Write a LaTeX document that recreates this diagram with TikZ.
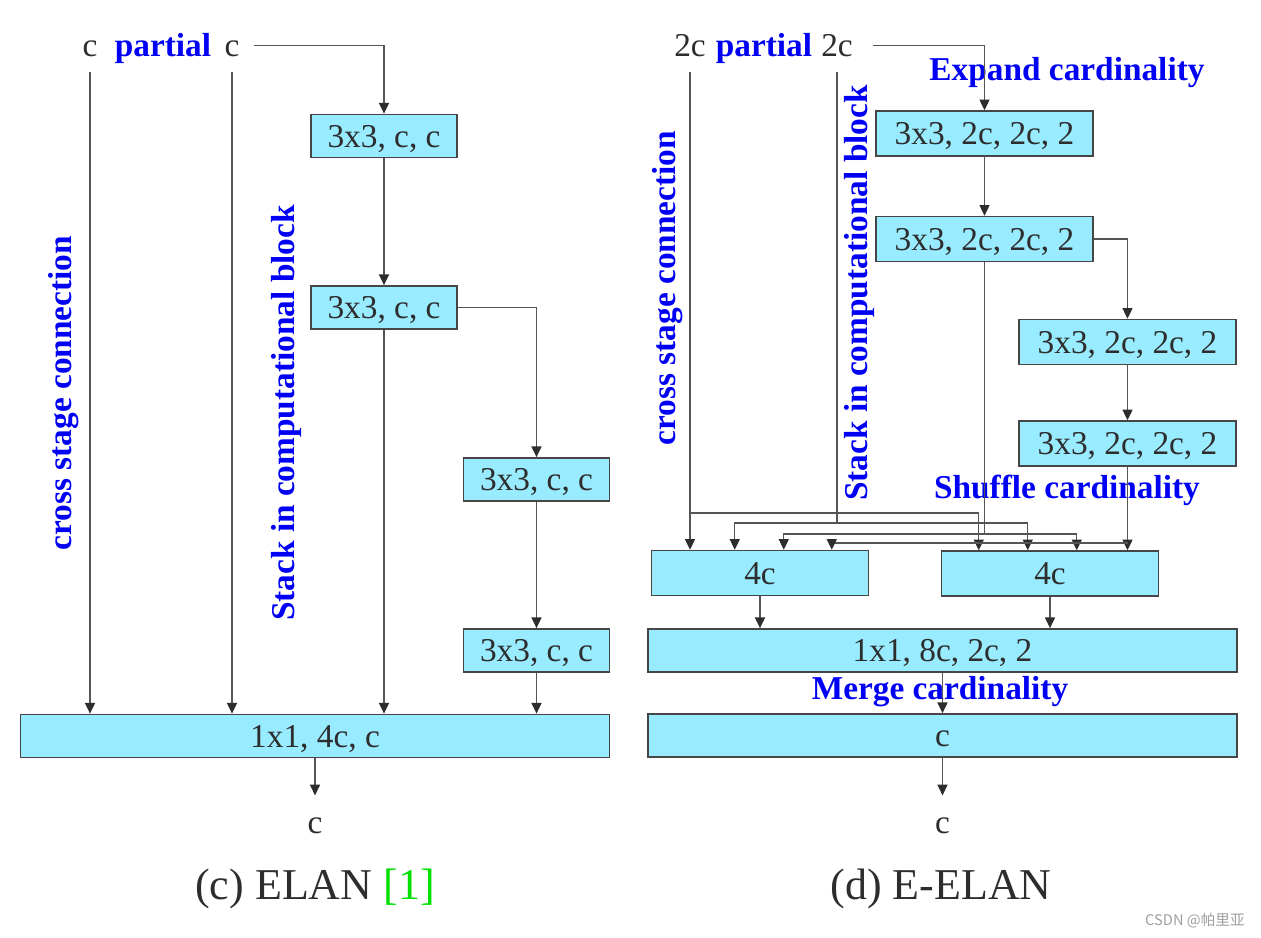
\documentclass[tikz,border=0pt]{standalone}
\usepackage{fontspec}
\setmainfont{Liberation Serif}
\newfontfamily\cjkfont{Noto Sans CJK SC}
\usepackage{xcolor}
\usetikzlibrary{arrows.meta,positioning,calc}
\definecolor{boxcyan}{RGB}{153,235,255}
\definecolor{edgegray}{RGB}{70,70,70}
\definecolor{wiregray}{RGB}{85,85,85}
\definecolor{inkgray}{RGB}{45,45,45}
\definecolor{cardblue}{RGB}{0,0,245}
\definecolor{refgreen}{RGB}{0,225,0}

\begin{document}
\begin{tikzpicture}[
  x=0.75pt, y=-0.75pt,
  font=\fontsize{25}{30}\selectfont,
  conv/.style={draw=edgegray, line width=1.1pt, fill=boxcyan, text=inkgray,
              inner sep=0pt, text height=17pt, text depth=0pt, minimum height=32.5pt},
  narrow/.style={conv, minimum width=109.5pt},
  wide/.style={conv, minimum width=162.75pt, minimum height=33.75pt},
  full/.style={conv, minimum width=442pt},
  io/.style={text=inkgray, inner sep=0pt, text height=17pt, text depth=0pt, anchor=base},
  tag/.style={text=cardblue, font=\fontsize{25}{30}\selectfont\bfseries, inner sep=0pt},
  subcap/.style={text=inkgray, inner sep=0pt, font=\fontsize{33}{40}\selectfont},
  ln/.style={draw=wiregray, line width=0.9pt},
  ar/.style={ln, -{Triangle[length=8pt,width=7.5pt,color=inkgray]}},
  from/.style={shorten <=11pt}
]
\fill[white] (0,0) rectangle (1261,938);
\useasboundingbox (0,0) rectangle (1261,938);

% (c) ELAN
\node[io] (cl) at (90,57) {c};
\node[tag, anchor=base] (pl) at (163,57) {partial};
\node[io] (cr) at (232,57) {c};
\node[tag, rotate=90] (csl) at (64,393) {cross stage connection};
\node[tag, rotate=90] (stl) at (286,413) {Stack in computational block};

\node[narrow] (b1) at (384,136) {3x3, c, c};
\node[narrow] (b2) at (384,307.5) {3x3, c, c};
\node[narrow] (b3) at (536.5,479.5) {3x3, c, c};
\node[narrow] (b4) at (536.5,650.5) {3x3, c, c};
\node[full] (bs) at (315,736) {1x1, 4c, c};
\node[io] (yl) at (315,833) {c};
\node[subcap] (capl) at (315,889) {(c) ELAN \textcolor{refgreen}{[1]}};

\draw[ar, from] (cl.south) -- (cl.south |- bs.north);
\draw[ar, from] (cr.south) -- (cr.south |- bs.north);
\draw[ar, from] (cr.east) -| (b1.north);
\draw[ar] (b1) -- (b2);
\draw[ar] (b2.east) -| (b3.north);
\draw[ar] (b2.south) -- (b2.south |- bs.north);
\draw[ar] (b3) -- (b4);
\draw[ar] (b4.south) -- (b4.south |- bs.north);
\draw[ar, shorten >=11pt] (bs.south) -- (yl.north);

% (d) E-ELAN
\node[io] (cl2) at (690,57) {2c};
\node[tag, anchor=base] (pr) at (764,57) {partial};
\node[io] (cr2) at (837,57) {2c};
\node[tag] (exp) at (1067,73) {Expand cardinality};
\node[tag, rotate=90] (csr) at (668,288) {cross stage connection};
\node[tag, rotate=90] (str) at (859,293) {Stack in computational block};

\node[wide] (e1) at (984.5,133.5) {3x3, 2c, 2c, 2};
\node[wide] (e2) at (984.5,239) {3x3, 2c, 2c, 2};
\node[wide] (e3) at (1127.5,342) {3x3, 2c, 2c, 2};
\node[wide] (e4) at (1127.5,443.5) {3x3, 2c, 2c, 2};
\node[tag] (shf) at (1067,490) {Shuffle cardinality};
\node[wide] (g1) at (760,573) {4c};
\node[wide] (g2) at (1050,573.5) {4c};
\node[full] (mg) at (942.5,650.5) {1x1, 8c, 2c, 2};
\node[tag] (mrg) at (940,692) {Merge cardinality};
\node[full] (oc) at (942.5,735.5) {c};
\node[io] (yr) at (942.5,833) {c};
\node[subcap] (capr) at (941,889) {(d) E-ELAN};

\draw[ar, shorten <=15pt] (cr2.east) -| (e1.north);
\draw[ar] (e1) -- (e2);
\draw[ar] (e2.east) -| (e3.north);
\draw[ar] (e3) -- (e4);

% shuffle buses
\coordinate (busA) at (0,513);
\coordinate (busB) at (0,523);
\coordinate (busC) at (0,534);
\coordinate (busD) at (0,543);
\draw[ar, from] (cl2.south) -- (cl2.south |- g1.north);
\draw[ar] (cl2.south |- busA) -| ($(g2.north west)+(38,0)$);
\draw[ln, from] (cr2.south) -- (cr2.south |- busB);
\draw[ar] (cr2.south |- busB) -| ($(g1.north west)+(84,0)$);
\draw[ar] (cr2.south |- busB) -| ($(g2.north west)+(87,0)$);
\draw[ln] (e2.south) -- (e2.south |- busC);
\draw[ar] (e2.south |- busC) -| ($(g1.north west)+(133,0)$);
\draw[ar] (e2.south |- busC) -| ($(g2.north west)+(136,0)$);
\draw[ar] (e4.south) -- (e4.south |- g2.north);
\draw[ar] (e4.south |- busD) -| ($(g1.north west)+(181,0)$);

\draw[ar] (g1.south) -- (g1.south |- mg.north);
\draw[ar] (g2.south) -- (g2.south |- mg.north);
\draw[ar] (mg) -- (oc);
\draw[ar, shorten >=11pt] (oc.south) -- (yr.north);

\node[text=gray!75, inner sep=0pt, font=\cjkfont\fontsize{11}{13}\selectfont] (wm) at (1195,921) {CSDN @帕里亚};
\end{tikzpicture}
\end{document}
